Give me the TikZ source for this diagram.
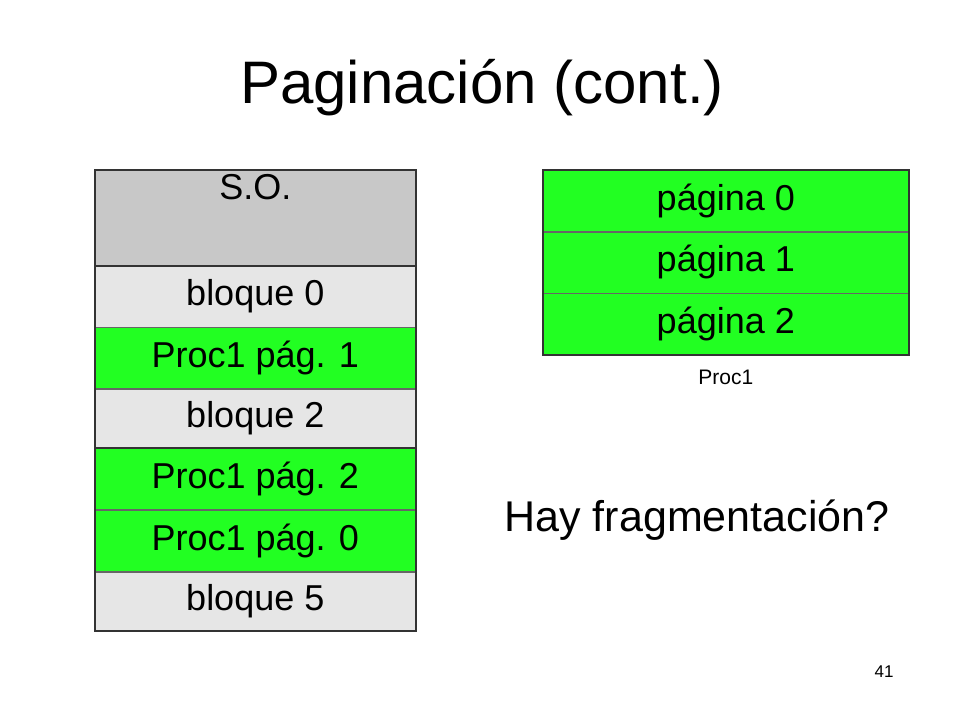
\documentclass[tikz,border=0pt]{standalone}
\usepackage{fontspec}
\setmainfont{Liberation Sans}
\usetikzlibrary{positioning}
\definecolor{sogray}{RGB}{200,200,200}
\definecolor{freegray}{RGB}{230,230,230}
\definecolor{pagegreen}{RGB}{34,255,34}
\tikzset{
  cell/.style={draw=black!60, line width=0.6pt, inner sep=0pt, minimum width=320pt, font=\fontsize{36}{40}\selectfont},
  pagecell/.style={draw=black!60, line width=0.6pt, inner sep=0pt, fill=pagegreen, minimum width=365pt, minimum height=61pt, font=\fontsize{36}{40}\selectfont},
  frame/.style={draw=black!80, line width=2pt}
}
\begin{document}
\begin{tikzpicture}[x=1pt,y=1pt]
\useasboundingbox (0,0) rectangle (960,720);
\node[font=\fontsize{60}{64}\selectfont] (title) at (482,632) {Paginación (cont.)};

% memoria fisica
\node[cell, fill=sogray, minimum height=95pt, anchor=north west, text depth=62pt] (so) at (95,550) {S.O.};
\node[cell, fill=freegray, minimum height=61pt, anchor=north] (b0) at (so.south) {bloque 0};
\node[cell, fill=pagegreen, minimum height=61pt, anchor=north] (b1) at (b0.south) {Proc1 pág. 1};
\node[cell, fill=freegray, minimum height=59pt, anchor=north] (b2) at (b1.south) {bloque 2};
\node[cell, fill=pagegreen, minimum height=61pt, anchor=north] (b3) at (b2.south) {Proc1 pág. 2};
\node[cell, fill=pagegreen, minimum height=61pt, anchor=north] (b4) at (b3.south) {Proc1 pág. 0};
\node[cell, fill=freegray, minimum height=59pt, anchor=north] (b5) at (b4.south) {bloque 5};
\draw[frame] (so.north west) rectangle (so.south east);
\draw[frame] (b0.north west) rectangle (b2.south east);
\draw[frame] (b3.north west) rectangle (b5.south east);

% espacio logico
\node[pagecell, anchor=north west] (p0) at (543,550) {página 0};
\node[pagecell, anchor=north] (p1) at (p0.south) {página 1};
\node[pagecell, anchor=north] (p2) at (p1.south) {página 2};
\draw[frame] (p0.north west) rectangle (p2.south east);
\node[font=\fontsize{21}{24}\selectfont, below=12pt of p2] (proc) {Proc1};

\node[font=\fontsize{43}{48}\selectfont] (q) at (697,200) {Hay fragmentación?};
\node[font=\fontsize{17}{20}\selectfont] (num) at (884,48) {41};
\end{tikzpicture}
\end{document}
